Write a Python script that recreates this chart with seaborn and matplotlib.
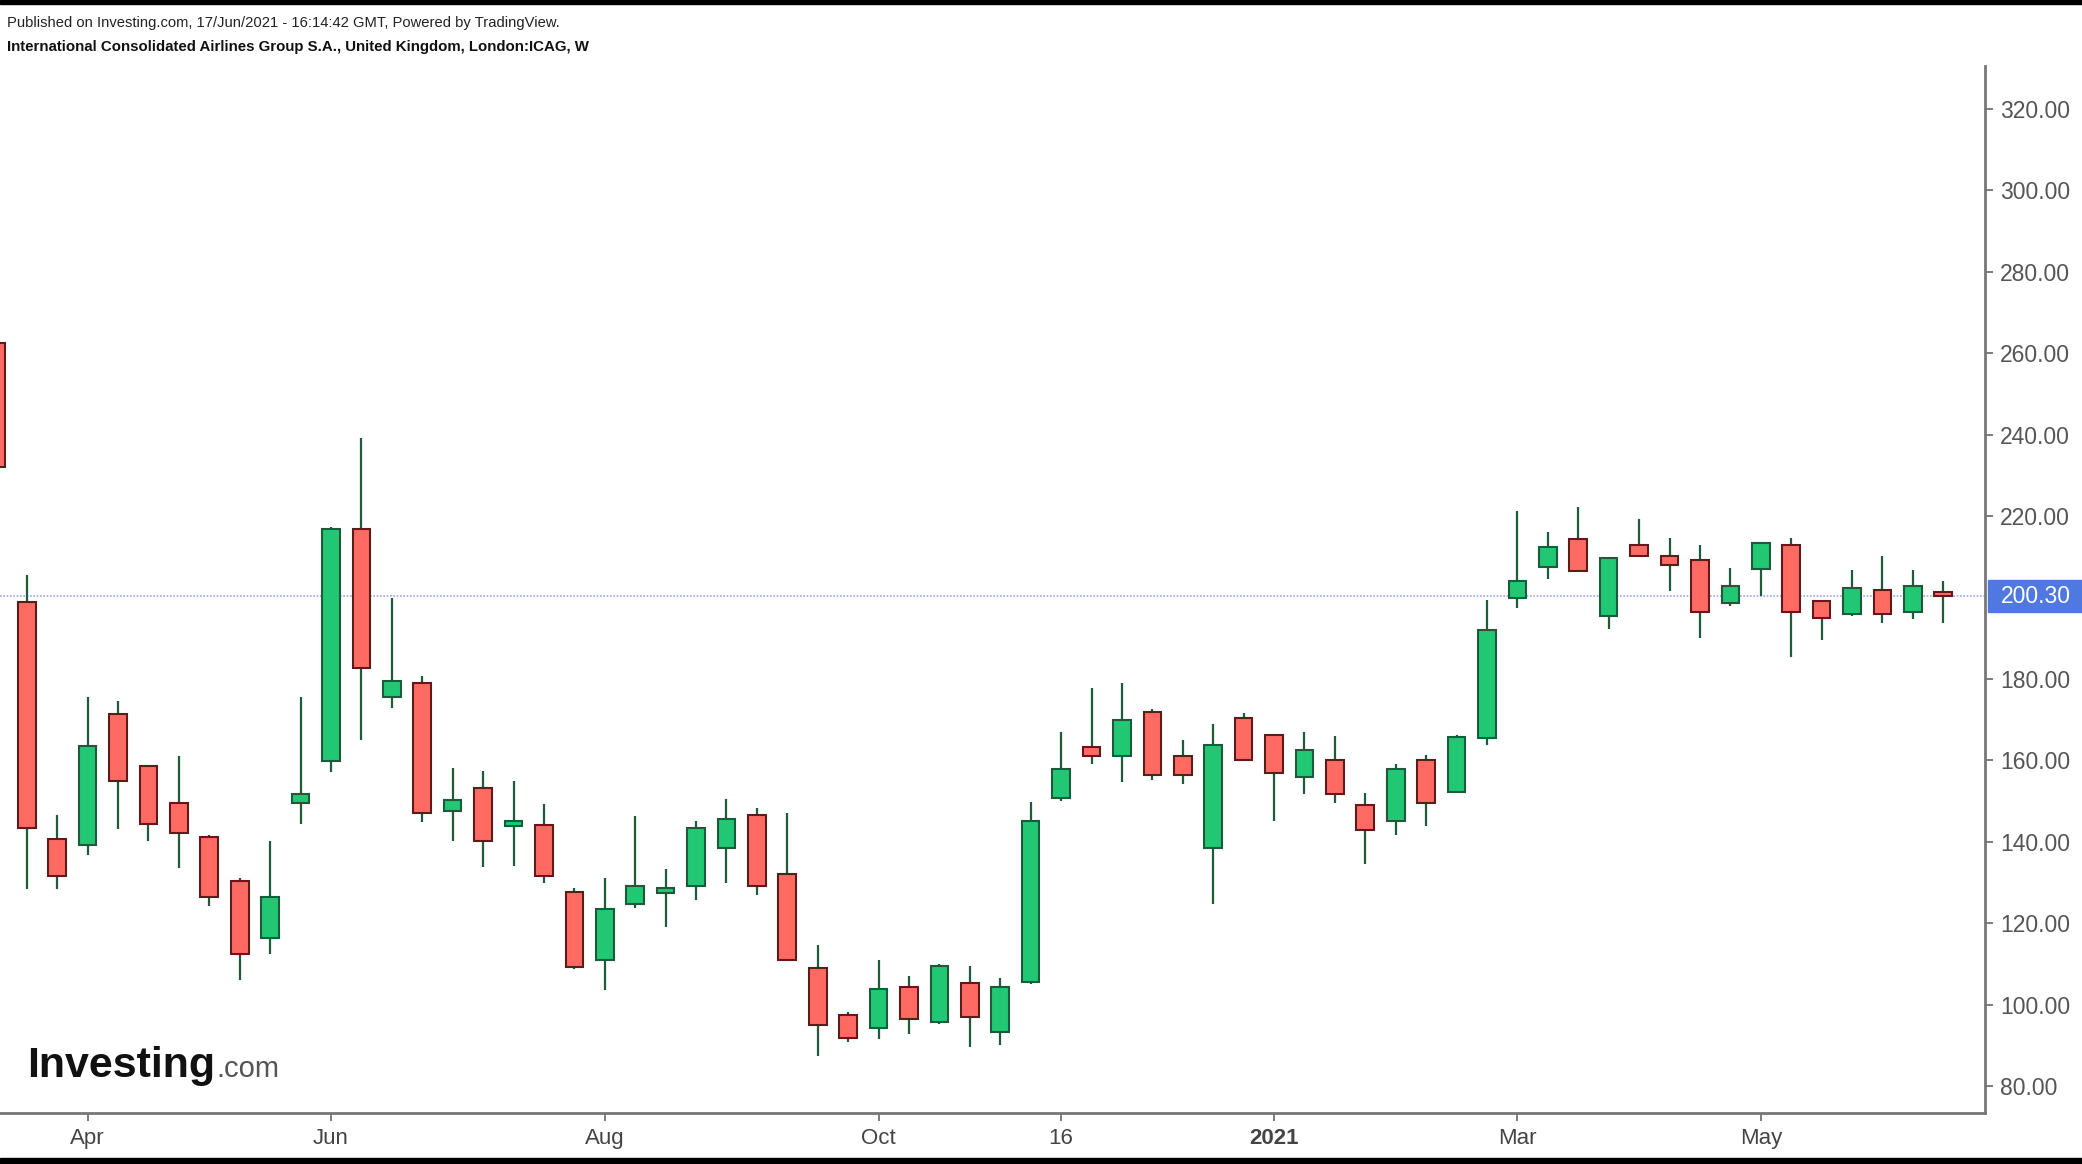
import numpy as np
import pandas as pd
import matplotlib
matplotlib.use("Agg")
import matplotlib.pyplot as plt
import matplotlib.transforms as mtransforms
from matplotlib.patches import Rectangle
import seaborn as sns

# weekly OHLC, ICAG (London)
opens = [262.5, 198.8, 140.8, 139.3, 171.3, 158.5, 149.5, 141.3, 130.5, 116.5,
         149.5, 159.9, 216.8, 175.5, 178.9, 147.6, 153.2, 144.0, 144.1, 127.6,
         110.9, 124.8, 127.5, 129.1, 138.4, 146.6, 132.2, 109.0, 97.6, 94.4,
         104.4, 95.8, 105.4, 93.3, 105.6, 150.7, 163.2, 161.1, 172.0, 161.1,
         138.4, 170.5, 166.3, 155.9, 160.0, 149.1, 145.1, 160.0, 152.3, 165.6,
         199.8, 207.4, 214.3, 195.5, 212.8, 210.2, 209.2, 198.6, 206.9, 212.8,
         199.2, 195.9, 201.9, 196.4, 201.4]
highs = [263.0, 205.5, 146.6, 175.5, 174.5, 158.5, 161.0, 141.8, 131.0, 140.3,
         175.5, 217.3, 239.1, 199.8, 180.7, 158.1, 157.5, 155.0, 149.4, 128.7,
         131.2, 146.3, 133.4, 145.2, 150.4, 148.4, 147.2, 114.7, 98.2, 111.1,
         107.1, 110.1, 109.5, 106.5, 149.9, 167.0, 177.7, 178.9, 172.6, 165.0,
         169.0, 171.6, 166.3, 167.0, 165.9, 151.9, 159.2, 161.2, 166.3, 199.4,
         221.2, 216.1, 222.3, 209.7, 219.2, 214.5, 212.9, 207.2, 213.3, 214.5,
         199.2, 206.7, 210.3, 206.7, 204.1]
lows = [231.5, 128.4, 128.4, 136.7, 143.1, 140.3, 133.5, 124.2, 106.0, 112.4,
        144.4, 157.2, 165.1, 172.8, 144.9, 140.3, 133.9, 134.0, 129.8, 108.7,
        103.6, 123.8, 119.1, 125.8, 130.0, 126.9, 110.9, 87.4, 90.8, 91.7,
        92.7, 95.3, 89.7, 90.1, 105.2, 150.0, 159.2, 154.7, 155.2, 154.2,
        124.8, 160.0, 145.0, 151.7, 149.5, 134.6, 141.8, 143.9, 152.3, 163.9,
        197.5, 204.6, 206.5, 192.2, 210.1, 201.5, 190.1, 197.9, 200.4, 185.5,
        189.6, 195.4, 193.8, 194.8, 193.8]
closes = [232.0, 143.4, 131.5, 163.6, 154.9, 144.4, 142.2, 126.5, 112.4, 126.4,
          151.7, 216.8, 182.6, 179.6, 147.0, 150.2, 140.3, 145.0, 131.5, 109.3,
          123.6, 129.2, 128.6, 143.5, 145.7, 129.1, 110.9, 95.0, 91.8, 103.8,
          96.4, 109.4, 97.0, 104.4, 145.1, 158.0, 161.1, 169.9, 156.3, 156.3,
          163.7, 160.0, 157.0, 162.6, 151.7, 143.0, 158.0, 149.6, 165.7, 192.0,
          204.0, 212.3, 206.5, 209.6, 210.1, 207.9, 196.4, 202.9, 213.3, 196.4,
          195.0, 202.3, 195.9, 202.8, 200.3]

tick_weeks = [3, 11, 20, 29, 35, 42, 50, 58]
tick_labels = ['Apr', 'Jun', 'Aug', 'Oct', '16', '2021', 'Mar', 'May']
price_ticks = [80, 100, 120, 140, 160, 180, 220, 240, 260, 280, 300, 320]
last_price = 200.30

sns.set_theme(style='white')
plt.rcParams['font.family'] = ['Liberation Sans', 'DejaVu Sans']

df = pd.DataFrame({'open': opens, 'high': highs, 'low': lows, 'close': closes})
df['week'] = np.arange(len(df))
df['up'] = df['close'] >= df['open']
df['bottom'] = df[['open', 'close']].min(axis=1)
df['height'] = (df['open'] - df['close']).abs().clip(lower=0.8)

green, red = '#22c773', '#ff6a62'
green_edge, red_edge = '#1d5a3b', '#5e1b1b'
wick = '#1f5a3a'

fig = plt.figure(figsize=(20.82, 11.64), dpi=100)
fig.patch.set_facecolor('white')
ax = fig.add_axes([0, 0.0441, 0.9534, 0.8992])

# wicks then bodies
ax.vlines(df['week'], df['low'], df['high'], color=wick, lw=1.6, zorder=2)
ax.bar(df['week'], df['height'], bottom=df['bottom'], width=0.58,
       color=np.where(df['up'], green, red),
       edgecolor=np.where(df['up'], green_edge, red_edge),
       linewidth=1.5, zorder=3)

# last price line + label
ax.axhline(last_price, color='#9aa6f2', lw=1.2, ls=(0, (1, 1)), zorder=1)
blend = mtransforms.blended_transform_factory(fig.transFigure, ax.transData)
ax.add_patch(Rectangle((1988 / 2082, last_price - 3.9), 94 / 2082, 7.9,
                       transform=blend, color='#4f79e0', clip_on=False, zorder=5))
ax.text(2001 / 2082, last_price, f'{last_price:.2f}', transform=blend,
        color='white', fontsize=16.5, va='center', ha='left', zorder=6)

ax.set_xlim(0.12, 65.37)
ax.set_ylim(73.5, 330.5)

ax.yaxis.tick_right()
ax.set_yticks(price_ticks)
ax.set_yticklabels([f'{v:.2f}' for v in price_ticks])
ax.set_xticks(tick_weeks)
ax.set_xticklabels(tick_labels)
for lab in ax.get_xticklabels():
    if lab.get_text() == '2021':
        lab.set_fontweight('bold')
ax.tick_params(axis='y', right=True, left=False, length=6, width=1.2,
               color='#666666', labelsize=16.5, labelcolor='#555555', pad=5)
ax.tick_params(axis='x', bottom=True, length=6, width=1.2,
               color='#666666', labelsize=16, labelcolor='#444444', pad=5)

for s in ['left', 'top']:
    ax.spines[s].set_visible(False)
for s in ['right', 'bottom']:
    ax.spines[s].set_color('#777777')
    ax.spines[s].set_linewidth(2)
ax.grid(False)

# header
fig.text(0.0032, 0.9805, 'Published on Investing.com, 17/Jun/2021 - 16:14:42 GMT, Powered by TradingView.',
         fontsize=10.6, color='#222222', va='center')
fig.text(0.0032, 0.9595, 'International Consolidated Airlines Group S.A., United Kingdom, London:ICAG, W',
         fontsize=10.8, fontweight='bold', color='#111111', va='center')

# logo
fig.text(0.0128, 0.0747, 'Investing', fontsize=31, fontweight='heavy', color='#111111', va='baseline')
fig.text(0.1037, 0.0747, '.com', fontsize=21, color='#555555', va='baseline')

# black strips top and bottom
fig.add_artist(Rectangle((0, 1 - 4 / 1164), 1, 4 / 1164, transform=fig.transFigure, color='black'))
fig.add_artist(Rectangle((0, 0), 1, 6 / 1164, transform=fig.transFigure, color='black'))

fig.savefig('out.png', dpi=100)
